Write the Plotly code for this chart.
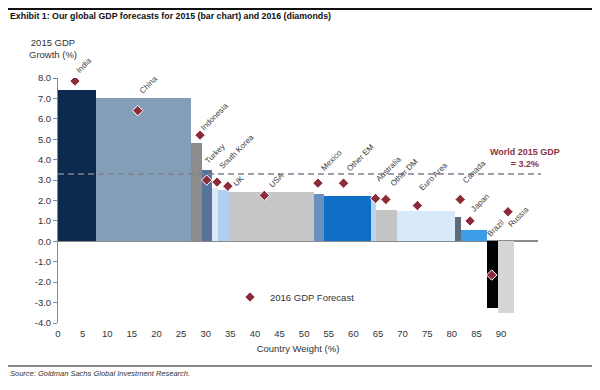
import numpy as np
import plotly.graph_objects as go

# ---------------- data ----------------
countries = ["India", "China", "Indonesia", "Turkey", "South Korea", "UK", "USA",
             "Mexico", "Other EM", "Australia", "Other DM", "Euro Area", "Canada",
             "Japan", "Brazil", "Russia"]
weights = [7.7, 19.4, 2.1, 2.1, 1.1, 2.4, 17.1, 2.1, 9.5, 1.0, 4.3, 11.8, 1.2, 5.3, 2.2, 3.4]
gdp2015 = [7.4, 7.0, 4.8, 3.5, 2.6, 2.5, 2.4, 2.3, 2.2, 2.2, 1.55, 1.5, 1.2, 0.55, -3.25, -3.5]
gdp2016 = [7.85, 6.4, 5.2, 3.0, 2.9, 2.7, 2.25, 2.85, 2.85, 2.1, 2.05, 1.75, 2.05, 1.0, -1.65, 1.45]
x2016 = [3.45, 16.2, 28.85, 30.2, 32.3, 34.5, 41.9, 52.8, 58.0, 64.5, 66.6, 73.0, 81.7, 83.7, 88.1, 91.4]
world_2015 = 3.3
world_label = "World 2015 GDP<br>= 3.2%"
x_ticks = list(range(0, 95, 5))
y_ticks = [-4, -3, -2, -1, 0, 1, 2, 3, 4, 5, 6, 7, 8]
y_tick_labels = ["-4.0", "-3.0", "-2.0", "-1.0", "0.0", "1.0", "2.0", "3.0",
                 "4.0", "5.0", "6.0", "7.0", "8.0"]

# ---------------- style ----------------
bar_colors = ["#0c2a4d", "#839fb8", "#8c8c8c", "#56739a", "#dde8f5", "#aed0ee",
              "#c6c6c6", "#6b8fbf", "#0f6fc6", "#b9d7f2", "#c4c4c4", "#d8e9f9",
              "#5d6b7b", "#3b9ce8", "#000000", "#d6d6d6"]
# label offsets from diamond (pixels: right, down) for the start of each label
label_off = [(3.3, -5.7), (4.6, -15), (3.3, -2.6), (1, -14.3), (4.7, -11.3), (8, 2.3),
             (6.7, -5.7), (5.3, -9.7), (5.7, -9.7), (3.3, -14.7), (7, -10.7), (4.4, -12.3),
             (5, -14), (3.3, -7.4), (-2.4, -35.7), (3, 17.3)]

FONT = "Arial, Liberation Sans, sans-serif"
OFF = 8  # page body margin of the browser
W, H = 600 - OFF, 390 - OFF
# plot area in page pixel coordinates
L, R, T, B = 58, 538, 78, 323


def px(xp):
    return (xp - L) / (R - L)


def py(yp):
    return (B - yp) / (B - T)


w = np.array(weights)
edges = np.concatenate([[0], np.cumsum(w)])
centers = edges[:-1] + w / 2

fig = go.Figure()
fig.add_trace(go.Bar(x=centers, y=gdp2015, width=w, marker_color=bar_colors,
                     marker_line_width=0, showlegend=False, name="2015"))
fig.add_trace(go.Scatter(x=x2016, y=gdp2016, mode="markers", name="2016 GDP Forecast",
                         marker=dict(symbol="diamond", size=8, color="#8e2b3a",
                                     line=dict(color="white", width=1))))

fig.add_shape(type="line", xref="paper", x0=0, x1=px(541), yref="y",
              y0=world_2015, y1=world_2015,
              line=dict(color="#7d8290", width=1.5, dash="6px,4px"), layer="above")

annotations = []
h_text = 10.5
for c, xv, yv, (dx, dy) in zip(countries, x2016, gdp2016, label_off):
    annotations.append(dict(x=xv, y=yv, xref="x", yref="y", text=c, showarrow=False,
                            textangle=-45, xanchor="left", yanchor="bottom",
                            xshift=dx - 0.707 * h_text + 2, yshift=-dy - 1, borderpad=0,
                            font=dict(family=FONT, size=8, color="#404040")))

annotations += [
    dict(x=px(525), y=py(158), xref="paper", yref="paper", text="<b>" + world_label + "</b>",
         showarrow=False, xanchor="center", yanchor="middle",
         font=dict(family=FONT, size=9, color="#8a3443")),
    dict(x=px(53), y=py(49), xref="paper", yref="paper", text="2015 GDP<br>Growth (%)",
         showarrow=False, xanchor="center", yanchor="middle",
         font=dict(family=FONT, size=9.5, color="#333333")),
    dict(x=px(8), y=py(16), xref="paper", yref="paper",
         text="<b>Exhibit 1: Our global GDP forecasts for 2015 (bar chart) and 2016 (diamonds)</b>",
         showarrow=False, xanchor="left", yanchor="middle",
         font=dict(family=FONT, size=8.8, color="#111111")),
    dict(x=px(8), y=py(373), xref="paper", yref="paper",
         text="<i>Source: Goldman Sachs Global Investment Research.</i>",
         showarrow=False, xanchor="left", yanchor="middle",
         font=dict(family=FONT, size=7.5, color="#333333")),
]

shapes_extra = [
    dict(type="line", xref="paper", yref="paper", x0=px(OFF), x1=px(597), y0=py(9), y1=py(9),
         line=dict(color="#111111", width=2)),
    dict(type="line", xref="paper", yref="paper", x0=px(OFF), x1=px(597), y0=py(366), y1=py(366),
         line=dict(color="#111111", width=1)),
]
for s in shapes_extra:
    fig.add_shape(**s)

fig.update_layout(
    width=W, height=H,
    margin=dict(l=L - OFF, r=600 - R, t=T - OFF, b=390 - B, pad=0, autoexpand=False),
    paper_bgcolor="white", plot_bgcolor="white",
    font=dict(family=FONT, size=9.5, color="#333333"),
    annotations=annotations,
    showlegend=True,
    legend=dict(x=px(230), y=py(297), xanchor="left", yanchor="middle",
                bgcolor="rgba(0,0,0,0)", font=dict(family=FONT, size=9.5, color="#333333"),
                itemwidth=30),
    xaxis=dict(range=[0, 97.5], tickvals=x_ticks, showline=False, showgrid=False,
               zeroline=False, ticks="", automargin=False, ticklabelstandoff=3,
               tickfont=dict(size=9.5, color="#333333"),
               title=dict(text="Country Weight (%)", standoff=7,
                          font=dict(size=9.5, color="#333333"))),
    yaxis=dict(range=[-4, 8], tickvals=y_ticks, ticktext=y_tick_labels, showline=True,
               linecolor="#8a8a8a", linewidth=1, ticks="outside", ticklen=4,
               tickcolor="#8a8a8a", showgrid=False, zeroline=True, zerolinecolor="#8a8a8a",
               zerolinewidth=1.5, automargin=False,
               tickfont=dict(size=9.5, color="#333333")),
    bargap=0,
)

fig.write_html("out.html")
